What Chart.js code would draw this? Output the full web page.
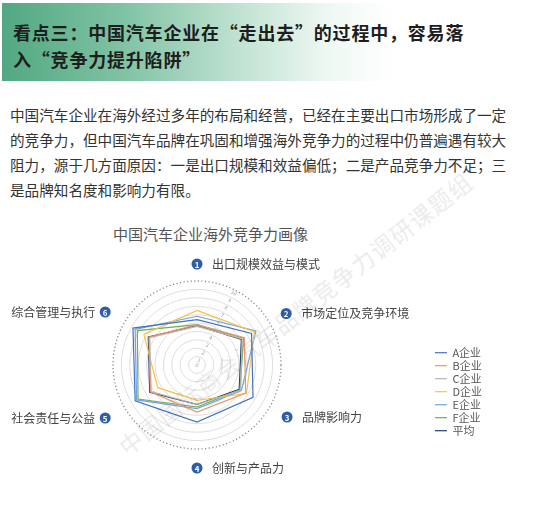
<!DOCTYPE html>
<html lang="zh-CN">
<head>
<meta charset="UTF-8">
<title>中国汽车企业海外竞争力画像</title>
<script src="https://cdn.jsdelivr.net/npm/chart.js"></script>
<style>
  html, body { margin: 0; padding: 0; background: #fff; }
  body {
    width: 545px; height: 517px; position: relative; overflow: hidden;
    font-family: "Noto Sans CJK SC", "Noto Sans", sans-serif;
  }
  .banner {
    position: absolute; left: 2px; top: 3px; width: 543px; height: 78px;
    background: linear-gradient(90deg, #52a882 0%, #7fc2a3 22%, #c4e4d5 45%, #eef8f3 60%, #ffffff 72%);
  }
  .banner h1 {
    position: absolute; left: 11px; top: 16px; margin: 0;
    font-size: 18px; line-height: 27px; letter-spacing: 0.8px;
    font-weight: bold; color: #1e1e1e;
  }
  .intro {
    position: absolute; left: 10px; top: 102px; margin: 0;
    font-size: 14.6px; line-height: 25px; color: #333; white-space: nowrap;
  }
  .chart-title {
    position: absolute; left: 113px; top: 223px;
    font-size: 15px; line-height: 22px; color: #555;
  }
  #radar { position: absolute; left: -37px; top: 210px; }
  .watermark {
    position: absolute; left: 295px; top: 313px;
    transform: translate(-50%, -50%) rotate(-38deg);
    font-size: 23px; letter-spacing: 1.5px; white-space: nowrap;
    color: rgba(0, 0, 0, 0.085); pointer-events: none;
  }
</style>
</head>
<body>
  <div class="banner">
    <h1>看点三：中国汽车企业在“走出去”的过程中，容易落<br>入“竞争力提升陷阱”</h1>
  </div>

  <p class="intro">中国汽车企业在海外经过多年的布局和经营，已经在主要出口市场形成了一定<br>的竞争力，但中国汽车品牌在巩固和增强海外竞争力的过程中仍普遍遇有较大<br>阻力，源于几方面原因：一是出口规模和效益偏低；二是产品竞争力不足；三<br>是品牌知名度和影响力有限。</p>

  <div class="chart-title">中国汽车企业海外竞争力画像</div>

  <canvas id="radar" width="582" height="307"></canvas>

  <div class="watermark">中国国际商会汽车品牌竞争力调研课题组</div>

<script>
// 六个维度
const categories = ['出口规模效益与模式', '市场定位及竞争环境', '品牌影响力', '创新与产品力', '社会责任与公益', '综合管理与执行'];

// 各企业得分 (0-10)
const seriesA = [5.4, 7.5, 7.7, 6.8, 8.5, 8.8];
const seriesB = [4.8, 6.5, 6.7, 5.6, 6.4, 6.6];
const seriesC = [4.6, 6.2, 6.0, 4.7, 6.3, 6.5];
const seriesD = [6.5, 7.9, 6.8, 4.2, 5.4, 7.3];
const seriesE = [5.8, 8.1, 6.1, 5.2, 8.3, 8.5];
const seriesF = [4.8, 6.4, 5.9, 5.0, 8.1, 8.2];
const seriesAvg = [4.7, 6.1, 5.8, 4.7, 6.5, 6.7];

// 刻度
const tickLabels = ['0', '1', '2', '3', '4', '5', '6', '7', '8', '9', '10'];

const FONT = '"Noto Sans CJK SC", "Noto Sans", sans-serif';

// 维度标签：编号圆点 + 文字
const labelGap = [17, 19, 20, 19, 22, 22];
const axisLabels = {
  id: 'axisLabels',
  afterDraw(chart) {
    const s = chart.scales.r;
    const ctx = chart.ctx;
    ctx.save();
    ctx.textBaseline = 'middle';
    categories.forEach((name, i) => {
      const p = s.getPointPosition(i, s.drawingArea + labelGap[i]);
      ctx.beginPath();
      ctx.arc(p.x, p.y, 5.5, 0, Math.PI * 2);
      ctx.fillStyle = '#2f5ea8';
      ctx.fill();
      ctx.fillStyle = '#fff';
      ctx.font = 'bold 8px ' + FONT;
      ctx.textAlign = 'center';
      ctx.fillText(String(i + 1), p.x, p.y + 0.5);
      ctx.fillStyle = '#444';
      ctx.font = '12px ' + FONT;
      if (i < 4) {
        ctx.textAlign = 'left';
        ctx.fillText(name, p.x + 15, p.y);
      } else {
        ctx.textAlign = 'right';
        ctx.fillText(name, p.x - 10, p.y);
      }
    });
    ctx.restore();
  }
};

// 斜向的刻度值
const slantTicks = {
  id: 'slantTicks',
  afterDatasetsDraw(chart) {
    const s = chart.scales.r;
    const ctx = chart.ctx;
    const a = 27 * Math.PI / 180;
    ctx.save();
    ctx.fillStyle = '#9a9a9a';
    ctx.font = '5px ' + FONT;
    ctx.textAlign = 'center';
    ctx.textBaseline = 'middle';
    s.ticks.forEach((t, i) => {
      const d = Math.max(s.getDistanceFromCenterForValue(t.value) - 3, 0);
      ctx.save();
      ctx.translate(s.xCenter + d * Math.sin(a), s.yCenter - d * Math.cos(a));
      ctx.rotate(a);
      ctx.fillText(tickLabels[i], 0, 0);
      ctx.restore();
    });
    ctx.restore();
  }
};

function line(label, data, color) {
  return {
    label: label,
    data: data,
    borderColor: color,
    backgroundColor: color,
    borderWidth: 1.2,
    pointRadius: 0,
    fill: false
  };
}

const ctx = document.getElementById('radar').getContext('2d');
new Chart(ctx, {
  type: 'radar',
  data: {
    labels: categories,
    datasets: [
      line('A企业', seriesA, '#4472c4'),
      line('B企业', seriesB, '#f0946a'),
      line('C企业', seriesC, '#b5b5b5'),
      line('D企业', seriesD, '#f7c347'),
      line('E企业', seriesE, '#6fa6dc'),
      line('F企业', seriesF, '#72ad4e'),
      line('平均', seriesAvg, '#243f74')
    ]
  },
  options: {
    responsive: false,
    animation: false,
    layout: { padding: { left: 0, right: 53, top: 71, bottom: 68 } },
    scales: {
      r: {
        min: 0,
        max: 10,
        ticks: { display: false, stepSize: 1 },
        angleLines: { display: false },
        pointLabels: { display: false },
        grid: {
          circular: true,
          lineWidth: c => c.index === tickLabels.length - 1 ? 1.3 : 1,
          color: c => c.index === tickLabels.length - 1 ? '#888888' : '#dedede'
        },
        border: {
          dash: c => c.index === tickLabels.length - 1 ? [1.2, 2.4] : []
        }
      }
    },
    plugins: {
      tooltip: { enabled: false },
      legend: {
        position: 'right',
        align: 'start',
        title: { display: true, text: ' ', font: { size: 11 }, padding: { top: 51, bottom: 0 } },
        labels: {
          usePointStyle: true,
          pointStyle: 'line',
          pointStyleWidth: 12,
          padding: 2,
          color: '#555',
          font: { size: 11, family: FONT }
        }
      }
    }
  },
  plugins: [slantTicks, axisLabels]
});
</script>
</body>
</html>
